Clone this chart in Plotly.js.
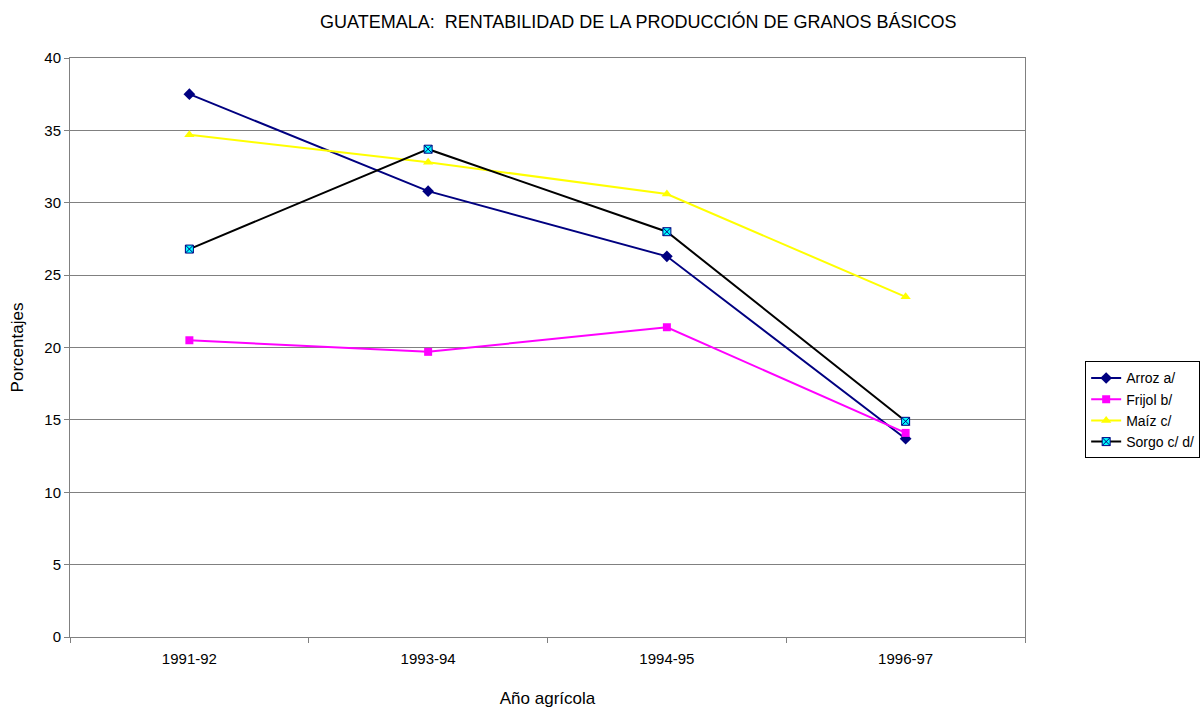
<!DOCTYPE html>
<html>
<head>
<meta charset="utf-8">
<script src="https://cdn.plot.ly/plotly-3.0.1.min.js"></script>
<style>html,body{margin:0;padding:0;background:#fff;}#chart{width:1203px;height:708px;}</style>
</head>
<body>
<div id="chart"></div>
<script>
const categories = ["1991-92", "1993-94", "1994-95", "1996-97"];
const arroz = [37.5, 30.8, 26.3, 13.7];
const frijol = [20.5, 19.7, 21.4, 14.1];
const maiz = [34.7, 32.8, 30.6, 23.5];
const sorgo = [26.8, 33.7, 28.0, 14.9];
const seriesNames = ["Arroz a/", "Frijol b/", "Maíz c/", "Sorgo c/ d/"];

const font = "Liberation Sans, Arial, sans-serif";
const traces = [
  {x: categories, y: arroz, name: seriesNames[0], mode: "lines+markers",
   line: {color: "#000080", width: 2}, marker: {symbol: "diamond", size: 9, color: "#000080"}},
  {x: categories, y: frijol, name: seriesNames[1], mode: "lines+markers",
   line: {color: "#FF00FF", width: 2}, marker: {symbol: "square", size: 8, color: "#FF00FF"}},
  {x: categories, y: maiz, name: seriesNames[2], mode: "lines+markers",
   line: {color: "#FFFF00", width: 2}, marker: {symbol: "triangle-up", size: 9, color: "#FFFF00"}},
  {x: categories, y: sorgo, name: seriesNames[3], mode: "lines+markers",
   line: {color: "#000000", width: 2}, marker: {symbol: "square-x", size: 8, color: "#00FFFF", line: {color: "#000080", width: 1}}}
];

const layout = {
  width: 1203, height: 708,
  margin: {l: 70, r: 178, t: 58, b: 71, autoexpand: false},
  paper_bgcolor: "#ffffff", plot_bgcolor: "#ffffff",
  font: {family: font, size: 14, color: "#000"},
  title: {text: "GUATEMALA:  RENTABILIDAD DE LA PRODUCCIÓN DE GRANOS BÁSICOS",
          font: {family: font, size: 18, color: "#000"},
          xref: "paper", x: 0.595, xanchor: "center", yref: "container", y: 0.97, yanchor: "middle"},
  xaxis: {
    type: "category", range: [-0.5, 3.5], tickson: "boundaries",
    ticks: "outside", ticklen: 5, tickcolor: "#808080",
    showline: true, linecolor: "#808080", linewidth: 1, mirror: true,
    showgrid: false, zeroline: false, ticklabelstandoff: 8,
    tickfont: {family: font, size: 15, color: "#000"},
    title: {text: "Año agrícola", font: {family: font, size: 17, color: "#000"}, standoff: 27}
  },
  yaxis: {
    range: [0, 40], dtick: 5, tick0: 0,
    ticks: "outside", ticklen: 5, tickcolor: "#808080",
    showline: true, linecolor: "#808080", linewidth: 1, mirror: true,
    showgrid: true, gridcolor: "#808080", gridwidth: 1, zeroline: false,
    tickfont: {family: font, size: 15, color: "#000"},
    title: {text: "Porcentajes", font: {family: font, size: 17, color: "#000"}, standoff: 16}
  },
  legend: {
    x: 1.063, xanchor: "left", y: 0.476, yanchor: "top",
    bgcolor: "#ffffff", bordercolor: "#000", borderwidth: 1,
    font: {family: font, size: 14, color: "#000"},
    tracegroupgap: 0, itemwidth: 30
  },
  showlegend: true
};

Plotly.newPlot("chart", traces, layout, {displayModeBar: false, staticPlot: true});
</script>
</body>
</html>
